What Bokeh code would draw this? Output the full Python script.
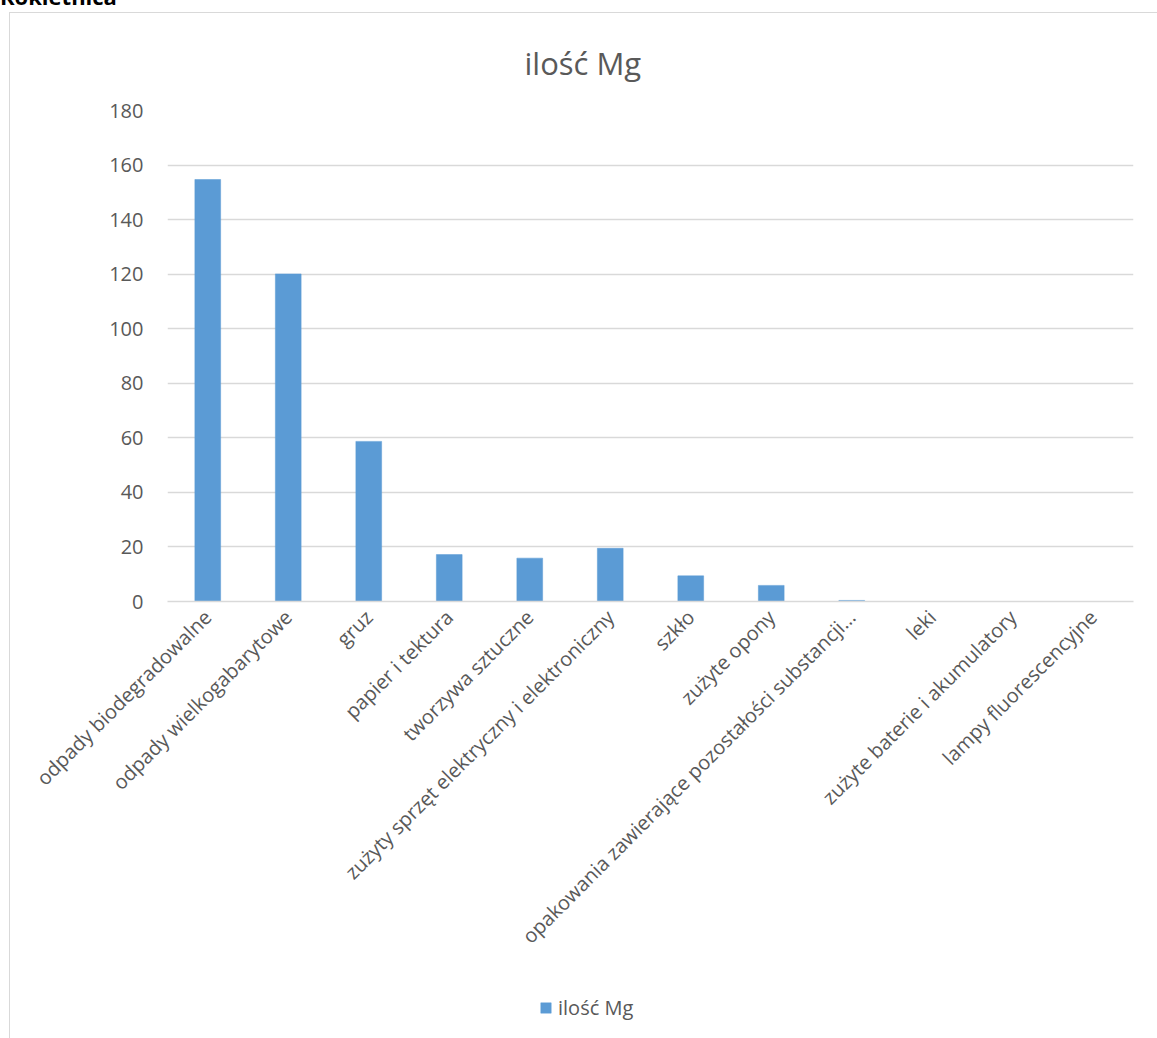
from bokeh.plotting import figure
from bokeh.models import ColumnDataSource, FactorRange, Range1d, Legend, LegendItem, Div, FixedTicker
from bokeh.layouts import column
from bokeh.embed import file_html
from bokeh.resources import INLINE
from math import pi

categories = [
    "odpady biodegradowalne",
    "odpady wielkogabarytowe",
    "gruz",
    "papier i tektura",
    "tworzywa sztuczne",
    "zużyty sprzęt elektryczny i elektroniczny",
    "szkło",
    "zużyte opony",
    "opakowania zawierające pozostałości substancji…",
    "leki",
    "zużyte baterie i akumulatory",
    "lampy fluorescencyjne",
]
values = [154.7, 120.1, 58.7, 17.2, 15.9, 19.5, 9.4, 5.9, 0.4, 0.0, 0.0, 0.0]
series_name = "ilość Mg"
y_ticks = [0, 20, 40, 60, 80, 100, 120, 140, 160, 180]
header = "Kokietnica"

FONT = "Open Sans"
TXT = "#595959"
BAR = "#5B9BD5"
GRID = "#D9D9D9"
BORDER = "1px solid #d9d9d9"

src = ColumnDataSource(dict(cat=categories, val=values))

# ---- main chart ----
p = figure(
    x_range=FactorRange(*categories, range_padding=0),
    y_range=Range1d(0, 180),
    width=1148, height=968,
    output_backend="svg", toolbar_location=None,
    min_border_left=157, min_border_right=25, min_border_top=96, min_border_bottom=380,
)
p.margin = (0, 0, 0, 9)
p.styles = {"border-left": BORDER, "border-top": BORDER}

p.title.text = series_name
p.title.align = "left"
p.title.offset = 357
p.title.text_font = FONT
p.title.text_font_style = "normal"
p.title.text_font_size = "31px"
p.title.text_color = TXT
p.title.standoff = 53

p.vbar(x="cat", top="val", width=0.32, source=src, fill_color=BAR, line_color=BAR, line_width=0.5)

p.outline_line_color = None
p.xgrid.grid_line_color = None
p.ygrid.grid_line_color = GRID
p.ygrid.grid_line_width = 1.3

p.yaxis.ticker = FixedTicker(ticks=y_ticks)
p.yaxis.axis_line_color = None
p.yaxis.major_tick_line_color = None
p.yaxis.minor_tick_line_color = None
p.yaxis.major_label_text_font = FONT
p.yaxis.major_label_text_font_size = "20px"
p.yaxis.major_label_text_color = TXT
p.yaxis.major_label_standoff = 18

p.xaxis.axis_line_color = GRID
p.xaxis.axis_line_width = 1.3
p.xaxis.major_tick_line_color = None
p.xaxis.minor_tick_line_color = None
p.xaxis.major_label_orientation = pi / 4
p.xaxis.major_label_text_font = FONT
p.xaxis.major_label_text_font_size = "20px"
p.xaxis.major_label_text_color = TXT
p.xaxis.major_label_standoff = 6

# ---- legend strip (same series; its bars fall outside this strip's range) ----
pl = figure(
    x_range=p.x_range,
    y_range=Range1d(1000, 1001),
    width=1148, height=58,
    output_backend="svg", toolbar_location=None,
    x_axis_type=None, y_axis_type=None,
    min_border=0,
)
pl.margin = (0, 0, 0, 9)
pl.styles = {"border-left": BORDER}
pl.outline_line_color = None
r_leg = pl.vbar(x="cat", top="val", width=0.32, source=src, fill_color=BAR, line_color=BAR, line_width=0.5)

legend = Legend(
    items=[LegendItem(label=series_name, renderers=[r_leg])],
    location=(372, 17),
    orientation="horizontal",
    border_line_color=None,
    background_fill_alpha=0,
    padding=0, margin=0,
    glyph_width=13, glyph_height=13, label_standoff=6,
    label_text_font=FONT, label_text_font_size="20px", label_text_color=TXT,
)
pl.add_layout(legend, "center")

hdr = Div(
    text=f'<div style="position:relative; top:-19px; left:0px; font-family:\'Open Sans\'; font-weight:bold; font-size:22px; color:#000; white-space:nowrap;">{header}</div>',
    width=300, height=12, margin=0,
)

layout = column(hdr, p, pl, spacing=0, margin=0)
open("out.html", "w").write(file_html(layout, INLINE))
